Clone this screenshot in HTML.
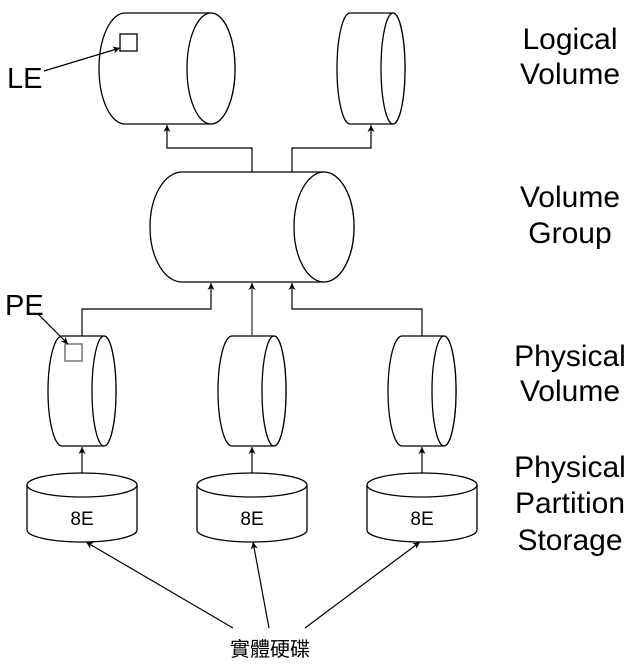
<!DOCTYPE html>
<html><head><meta charset="utf-8"><style>
html,body{margin:0;padding:0;background:#fff;width:638px;height:666px;overflow:hidden}
svg{display:block}
text{font-family:"Liberation Sans","Noto Sans CJK TC",sans-serif;fill:#000}
</style></head><body>
<svg width="638" height="666" viewBox="0 0 638 666" xmlns="http://www.w3.org/2000/svg">
<defs><marker id="a" markerWidth="8" markerHeight="8" refX="7" refY="4" orient="auto" markerUnits="userSpaceOnUse"><path d="M0,0.5 L7,4 L0,7.5 L2,4 Z" fill="#000"/></marker></defs>
<g fill="#fff" stroke="#000" stroke-width="1.3">
<path d="M125,13 L211,13 A24,55.5 0 0 1 211,124 L125,124 A26,55.5 0 0 1 125,13 Z"/>
<ellipse cx="211" cy="68.5" rx="24" ry="55.5"/>
<rect x="120" y="34" width="17" height="17"/>
<path d="M350,13 L393,13 A12,55.5 0 0 1 393,124 L350,124 A13,55.5 0 0 1 350,13 Z"/>
<ellipse cx="393" cy="68.5" rx="12" ry="55.5"/>
<path d="M182,172 L324,172 A30,55 0 0 1 324,282 L182,282 A32,55 0 0 1 182,172 Z"/>
<ellipse cx="324" cy="227" rx="30" ry="55"/>
<path d="M62,336 L104,336 A12,55 0 0 1 104,446 L62,446 A14,55 0 0 1 62,336 Z"/>
<ellipse cx="104" cy="391" rx="12" ry="55"/>
<path d="M232,336 L274,336 A12,55 0 0 1 274,446 L232,446 A14,55 0 0 1 232,336 Z"/>
<ellipse cx="274" cy="391" rx="12" ry="55"/>
<path d="M402,336 L444,336 A12,55 0 0 1 444,446 L402,446 A14,55 0 0 1 402,336 Z"/>
<ellipse cx="444" cy="391" rx="12" ry="55"/>
<path d="M27,485 L27,530 A55,12 0 0 0 137,530 L137,485"/>
<ellipse cx="82" cy="485" rx="55" ry="12"/>
<path d="M197,485 L197,530 A55,12 0 0 0 307,530 L307,485"/>
<ellipse cx="252" cy="485" rx="55" ry="12"/>
<path d="M367,485 L367,530 A55,12 0 0 0 477,530 L477,485"/>
<ellipse cx="422" cy="485" rx="55" ry="12"/>
</g>
<rect x="65" y="344" width="17" height="17" fill="none" stroke="#777" stroke-width="1.5"/>
<g fill="none" stroke="#000" stroke-width="1.2">
<path d="M44,71 L120,48" marker-end="url(#a)"/>
<path d="M38,314 L68,344" marker-end="url(#a)"/>
<path d="M252,172 L252,148 L167,148 L167,125" marker-end="url(#a)"/>
<path d="M292,172 L292,148 L371,148 L371,125" marker-end="url(#a)"/>
<path d="M82,336 L82,309 L211,309 L211,283" marker-end="url(#a)"/>
<path d="M252,336 L252,283" stroke="#555" stroke-width="1.5" marker-end="url(#a)"/>
<path d="M422,336 L422,309 L292,309 L292,283" marker-end="url(#a)"/>
<path d="M82,473 L82,447" marker-end="url(#a)"/>
<path d="M252,473 L252,447" marker-end="url(#a)"/>
<path d="M422,473 L422,447" marker-end="url(#a)"/>
<path d="M233,628 L86,542" marker-end="url(#a)"/>
<path d="M269,628 L253,542" marker-end="url(#a)"/>
<path d="M305,628 L420,542" marker-end="url(#a)"/>
</g>
<text x="7" y="88" font-size="29">LE</text>
<text x="5" y="315" font-size="29">PE</text>
<g font-size="19" text-anchor="middle">
<text x="82" y="525">8E</text><text x="252" y="525">8E</text><text x="422" y="525">8E</text>
</g>
<text x="270" y="656" font-size="20" text-anchor="middle">實體硬碟</text>
<g font-size="30" text-anchor="middle">
<text x="570" y="49">Logical</text><text x="570" y="84">Volume</text>
<text x="570" y="207">Volume</text><text x="570" y="243">Group</text>
<text x="570" y="366">Physical</text><text x="570" y="401">Volume</text>
<text x="570" y="477">Physical</text><text x="570" y="513">Partition</text><text x="570" y="550">Storage</text>
</g>
</svg>
</body></html>
